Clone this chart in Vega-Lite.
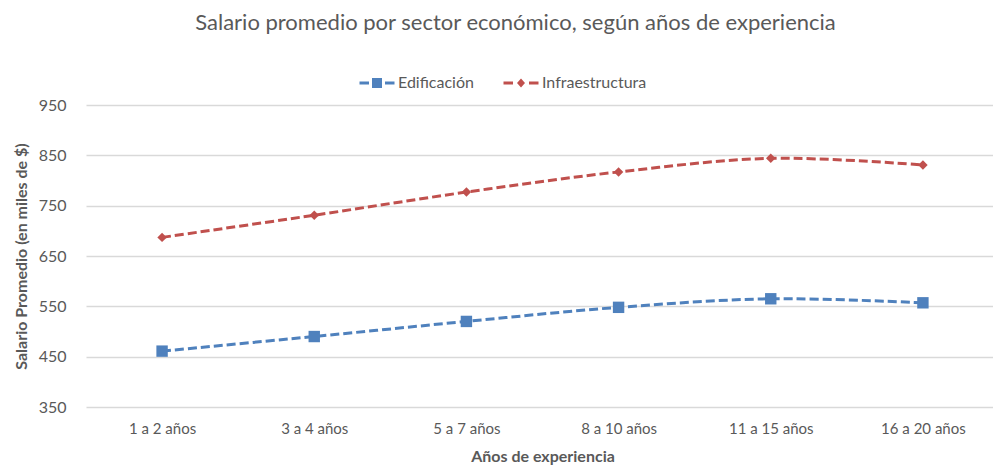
{
  "$schema": "https://vega.github.io/schema/vega-lite/v6.json",
  "autosize": "none",
  "width": 913,
  "height": 302,
  "padding": {"left": 86, "top": 105, "right": 0, "bottom": 66},
  "background": "white",
  "title": {
    "text": "Salario promedio por sector económico, según años de experiencia",
    "font": "Lato",
    "fontSize": 22,
    "fontWeight": "normal",
    "color": "#595959",
    "anchor": "middle",
    "frame": "group",
    "dx": -27,
    "offset": 40
  },
  "config": {
    "view": {"stroke": null},
    "font": "Lato",
    "axis": {
      "labelFont": "Lato",
      "labelColor": "#595959",
      "titleColor": "#595959",
      "titleFont": "Lato"
    }
  },
  "data": {
    "values": [
      {"exp": "1 a 2 años", "sector": "Edificación", "salario": 461},
      {"exp": "3 a 4 años", "sector": "Edificación", "salario": 490},
      {"exp": "5 a 7 años", "sector": "Edificación", "salario": 520},
      {"exp": "8 a 10 años", "sector": "Edificación", "salario": 548},
      {"exp": "11 a 15 años", "sector": "Edificación", "salario": 565},
      {"exp": "16 a 20 años", "sector": "Edificación", "salario": 557},
      {"exp": "1 a 2 años", "sector": "Infraestructura", "salario": 687},
      {"exp": "3 a 4 años", "sector": "Infraestructura", "salario": 731},
      {"exp": "5 a 7 años", "sector": "Infraestructura", "salario": 777},
      {"exp": "8 a 10 años", "sector": "Infraestructura", "salario": 817},
      {"exp": "11 a 15 años", "sector": "Infraestructura", "salario": 844},
      {"exp": "16 a 20 años", "sector": "Infraestructura", "salario": 831}
    ]
  },
  "encoding": {
    "x": {
      "field": "exp",
      "type": "nominal",
      "sort": ["1 a 2 años", "3 a 4 años", "5 a 7 años", "8 a 10 años", "11 a 15 años", "16 a 20 años"],
      "scale": {"paddingInner": 0, "paddingOuter": 0.5},
      "axis": {
        "title": "Años de experiencia",
        "labelAngle": 0,
        "labelFontSize": 15,
        "labelPadding": 14,
        "ticks": false,
        "domain": false,
        "grid": false,
        "titleFontSize": 16,
        "titleFontWeight": "bold",
        "titlePadding": 12
      }
    },
    "y": {
      "field": "salario",
      "type": "quantitative",
      "scale": {"domain": [350, 950], "nice": false, "zero": false},
      "axis": {
        "title": "Salario Promedio (en miles de $)",
        "values": [350, 450, 550, 650, 750, 850, 950],
        "labelFontSize": 16,
        "labelPadding": 20,
        "ticks": false,
        "domain": false,
        "gridColor": "#D9D9D9",
        "gridWidth": 1.5,
        "titleFontSize": 16,
        "titleFontWeight": "bold",
        "titlePadding": 9
      }
    },
    "color": {
      "field": "sector",
      "type": "nominal",
      "scale": {"domain": ["Edificación", "Infraestructura"], "range": ["#4F81BD", "#C0504D"]},
      "legend": {
        "title": null,
        "orient": "none",
        "direction": "horizontal",
        "legendX": 283,
        "legendY": -30,
        "padding": 0,
        "labelFont": "Lato",
        "labelFontSize": 16,
        "labelColor": "#595959",
        "symbolSize": 100,
        "symbolType": "M-3.5,-0.3H-1.6V0.3H-3.5Z M-1,-1H1V1H-1Z M1.6,-0.3H3.5V0.3H1.6Z",
        "symbolStrokeWidth": 0,
        "labelOffset": 13,
        "columnPadding": 29,
        "encode": {
          "symbols": {
            "update": {
              "shape": {"signal": "datum.value == 'Edificación' ? 'M-3.5,-0.3H-1.6V0.3H-3.5Z M-1,-1H1V1H-1Z M1.6,-0.3H3.5V0.3H1.6Z' : 'M-3.5,-0.3H-1.6V0.3H-3.5Z M0,-0.9L0.8,0L0,0.9L-0.8,0Z M1.6,-0.3H3.5V0.3H1.6Z'"},
              "fill": {"signal": "datum.value == 'Edificación' ? '#4F81BD' : '#C0504D'"},
              "fillOpacity": {"value": 1},
              "strokeWidth": {"value": 0}
            }
          }
        }
      }
    }
  },
  "layer": [
    {
      "mark": {"type": "line", "interpolate": "catmull-rom", "strokeWidth": 3, "strokeDash": [9, 4]},
      "encoding": {}
    },
    {
      "transform": [{"filter": "datum.sector == 'Edificación'"}],
      "mark": {"type": "point", "filled": true, "opacity": 1, "shape": "square", "size": 130},
      "encoding": {}
    },
    {
      "transform": [{"filter": "datum.sector == 'Infraestructura'"}],
      "mark": {"type": "point", "filled": true, "opacity": 1, "shape": "diamond", "size": 90},
      "encoding": {}
    }
  ]
}
